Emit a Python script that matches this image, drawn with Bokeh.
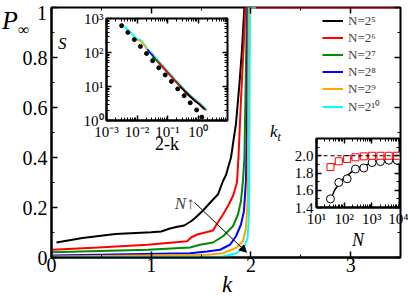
import numpy as np
from bokeh.plotting import figure
from bokeh.models import (Range1d, FixedTicker, LinearAxis, LogAxis, Legend, LegendItem,
                          Label, Arrow, NormalHead, Span, CustomJSTickFormatter, Div)
from bokeh.layouts import column
from bokeh.embed import file_html
from bokeh.resources import INLINE

FONT = "Liberation Serif"

# ---------------- main panel data: P_inf vs k ----------------
series_names = ["N=2⁵", "N=2⁶", "N=2⁷", "N=2⁸", "N=2⁹", "N=2¹⁰"]
series_colors = ["#000000", "#ff0000", "#008b00", "#0000ff", "#ffa500", "#00ffff"]

k_N5 = [0.05, 0.31, 0.64, 1.00, 1.10, 1.18, 1.25, 1.33, 1.40, 1.44, 1.52, 1.59, 1.67, 1.72, 1.75, 1.80, 1.85, 1.885, 1.91, 1.934, 2.05]
P_N5 = [0.060, 0.078, 0.094, 0.101, 0.104, 0.115, 0.122, 0.128, 0.145, 0.158, 0.188, 0.219, 0.253, 0.306, 0.330, 0.400, 0.535, 0.696, 0.830, 1.0, 1.0]
k_N6 = [0.01, 0.47, 0.965, 1.36, 1.40, 1.46, 1.56, 1.62, 1.655, 1.72, 1.77, 1.82, 1.86, 1.875, 1.90, 1.925, 1.945, 2.0, 3.5]
P_N6 = [0.031, 0.040, 0.051, 0.065, 0.080, 0.092, 0.102, 0.108, 0.132, 0.172, 0.206, 0.246, 0.300, 0.400, 0.630, 0.830, 1.0, 1.0, 1.0]
k_N7 = [0.01, 0.965, 1.39, 1.49, 1.62, 1.72, 1.82, 1.87, 1.90, 1.92, 1.935, 1.95, 1.96, 2.05]
P_N7 = [0.021, 0.031, 0.040, 0.051, 0.060, 0.085, 0.125, 0.172, 0.226, 0.306, 0.400, 0.760, 1.0, 1.0]
k_N8 = [0.01, 1.39, 1.56, 1.69, 1.79, 1.85, 1.90, 1.93, 1.95, 1.96, 1.967, 2.05]
P_N8 = [0.008, 0.017, 0.024, 0.031, 0.051, 0.085, 0.132, 0.185, 0.306, 0.500, 1.0, 1.0]
k_N9 = [0.01, 1.56, 1.72, 1.85, 1.92, 1.95, 1.967, 1.972, 1.977, 2.05]
P_N9 = [0.004, 0.011, 0.017, 0.038, 0.065, 0.118, 0.226, 0.500, 1.0, 1.0]
k_N10 = [0.01, 1.72, 1.85, 1.93, 1.967, 1.98, 1.985, 1.99, 2.05]
P_N10 = [0.0, 0.004, 0.017, 0.038, 0.078, 0.172, 0.500, 1.0, 1.0]

main_k = [k_N5, k_N6, k_N7, k_N8, k_N9, k_N10]
main_P = [P_N5, P_N6, P_N7, P_N8, P_N9, P_N10]

x_ticks = [0, 1, 2, 3]
y_ticks = [0, 0.2, 0.4, 0.6, 0.8, 1.0]

# arrow "N up"
arrow_start = (1.432, 0.221)
arrow_end = (1.955, 0.021)

dots_logx = [-2.505, -2.30, -2.09, -1.89, -1.69, -1.49, -1.29, -1.08, -0.875, -0.67, -0.46, -0.26, -0.05, 0.12]
dots_logS = [2.79, 2.59, 2.38, 2.18, 1.97, 1.76, 1.55, 1.34, 1.15, 0.93, 0.73, 0.52, 0.31, 0.10]

S_logx_N10 = [-2.41, -2.25, -2.12, -2.05, -1.97, -1.88, -1.80, -1.72, -1.64, -1.56, -1.48, -1.40, -1.32, -1.24, -1.16, -1.08, -1.00, -0.92, -0.84, -0.76, -0.68, -0.60, -0.52, -0.44, -0.36, -0.28, -0.20, -0.12, -0.04, 0.04, 0.12, 0.20, 0.28]
S_logS_N10 = [2.76, 2.62, 2.50, 2.42, 2.39, 2.36, 2.28, 2.18, 2.06, 2.02, 1.95, 1.84, 1.78, 1.68, 1.62, 1.53, 1.45, 1.36, 1.30, 1.20, 1.14, 1.05, 0.98, 0.90, 0.84, 0.76, 0.70, 0.63, 0.57, 0.52, 0.45, 0.38, 0.30]
S_logx_N9 = [-2.07, -1.97, -1.88, -1.80, -1.72, -1.64, -1.56, -1.48, -1.40, -1.24, -1.08, -0.92, -0.76, -0.60, -0.44, -0.28, -0.12, 0.04, 0.20, 0.26]
S_logS_N9 = [2.40, 2.36, 2.33, 2.25, 2.15, 2.04, 1.99, 1.92, 1.82, 1.66, 1.50, 1.34, 1.18, 1.03, 0.88, 0.74, 0.61, 0.50, 0.36, 0.31]
S_logx_N8 = [-1.66, -1.58, -1.48, -1.40, -1.24, -1.08, -0.92, -0.76, -0.60, -0.44, -0.28, -0.12, 0.04, 0.20, 0.25]
S_logS_N8 = [2.10, 1.99, 1.90, 1.81, 1.64, 1.49, 1.33, 1.17, 1.02, 0.87, 0.73, 0.60, 0.49, 0.35, 0.31]
S_logx_N7 = [-1.51, -1.40, -1.24, -1.08, -0.92, -0.76, -0.60, -0.44, -0.28, -0.12, 0.04, 0.20, 0.24]
S_logS_N7 = [1.86, 1.80, 1.63, 1.48, 1.32, 1.16, 1.01, 0.86, 0.72, 0.59, 0.48, 0.34, 0.31]
S_logx_N6 = [-1.30, -1.16, -1.00, -0.84, -0.68, -0.52, -0.36, -0.20, -0.04, 0.12, 0.22]
S_logS_N6 = [1.72, 1.58, 1.41, 1.26, 1.10, 0.95, 0.81, 0.67, 0.55, 0.42, 0.33]
S_logx_N5 = [-0.60, -0.44, -0.28, -0.12, 0.04, 0.20]
S_logS_N5 = [1.00, 0.85, 0.71, 0.58, 0.47, 0.33]

inset_S_x = [S_logx_N5, S_logx_N6, S_logx_N7, S_logx_N8, S_logx_N9, S_logx_N10]
inset_S_y = [S_logS_N5, S_logS_N6, S_logS_N7, S_logS_N8, S_logS_N9, S_logS_N10]

# ---------------- inset 2: k_t vs N ----------------
N_vals = [32, 64, 128, 256, 512, 1024, 2048, 4096, 8192]
kt_circles = [1.50, 1.69, 1.733, 1.846, 1.858, 1.921, 1.932, 1.948, 1.948]
kt_squares = [1.869, 1.936, 1.962, 1.982, 1.993, 2.0, 2.0, 2.0, 2.0]
fit_N = [32, 45, 64, 91, 128, 181, 256, 362, 512, 1024, 2048, 4096, 8192]
fit_kt = [1.49, 1.60, 1.67, 1.73, 1.77, 1.81, 1.84, 1.865, 1.885, 1.915, 1.935, 1.95, 1.96]

SUP_JS = """
const sup = {"-":"\\u207b","0":"\\u2070","1":"\\u00b9","2":"\\u00b2","3":"\\u00b3","4":"\\u2074",
             "5":"\\u2075","6":"\\u2076","7":"\\u2077","8":"\\u2078","9":"\\u2079"};
const e = Math.round(Math.log10(tick));
return "10" + String(e).split("").map(c => sup[c]).join("");
"""


def style_axis(ax, size, labels=True, major_in=6, minor_in=3, line=True):
    ax.major_tick_in = major_in
    ax.major_tick_out = 0
    ax.minor_tick_in = minor_in
    ax.minor_tick_out = 0
    ax.major_tick_line_color = "black"
    ax.minor_tick_line_color = "black"
    ax.major_tick_line_width = 1.5
    ax.minor_tick_line_width = 1
    ax.axis_line_color = "black" if line else None
    ax.axis_line_width = 2
    ax.major_label_text_font = FONT
    ax.major_label_text_color = "black"
    ax.major_label_text_font_size = size
    ax.major_label_standoff = 3
    ax.axis_label_text_font = FONT
    ax.axis_label_text_color = "black"
    if not labels:
        ax.formatter = CustomJSTickFormatter(code="return '';")
        ax.major_label_text_color = None
        ax.major_label_text_font_size = "1px"
        ax.major_label_standoff = 0
        ax.axis_label_standoff = 0


def text_div(html, left, top, size):
    inner = (f'<div style="font-family:\'{FONT}\';font-size:{size}px;line-height:1;'
             f'color:black;white-space:nowrap;margin:0;padding:0">{html}</div>')
    return Div(text=inner, width=50, height=30, margin=0,
               styles={"position": "absolute", "left": f"{left}px", "top": f"{top}px",
                       "font-family": FONT, "font-size": f"{size}px", "line-height": "1"})


# ================= main figure =================
p = figure(width=417, height=296, x_range=Range1d(0, 3.5), y_range=Range1d(0, 1),
           output_backend="svg", toolbar_location=None,
           min_border_left=51, min_border_right=2, min_border_top=7, min_border_bottom=39)
p.grid.visible = False
p.outline_line_color = "black"
p.outline_line_width = 2
p.outline_line_alpha = 1
p.background_fill_color = "white"
p.border_fill_color = "white"

xt = FixedTicker(ticks=x_ticks, minor_ticks=[0.5, 1.5, 2.5])
yt = FixedTicker(ticks=y_ticks, minor_ticks=[0.1, 0.3, 0.5, 0.7, 0.9])
p.xaxis.ticker = xt
p.yaxis.ticker = yt
# the label of the top tick (1) is placed a little lower, as in the reference, by a separate text below
p.yaxis.formatter = CustomJSTickFormatter(code="if (Math.abs(tick - 1) < 1e-9) return ''; return Math.abs(tick) < 1e-9 ? '0' : tick.toFixed(1);")
style_axis(p.xaxis[0], "20px")
style_axis(p.yaxis[0], "20px")
p.yaxis.major_label_standoff = 4
p.xaxis.major_label_standoff = 0
top_ax = LinearAxis(ticker=xt)
right_ax = LinearAxis(ticker=yt)
style_axis(top_ax, "1px", labels=False, line=False)
style_axis(right_ax, "1px", labels=False, line=False)
p.add_layout(top_ax, "above")
p.add_layout(right_ax, "right")

items = []
for name, col, kk, PP in zip(series_names, series_colors, main_k, main_P):
    r = p.line(kk, PP, line_color=col, line_width=2)
    items.append(LegendItem(label=name, renderers=[r]))

legend = Legend(items=items, location=(271, 142), padding=0, margin=0, spacing=0,
                glyph_width=21, glyph_height=17, label_height=17, label_standoff=5,
                label_text_font=FONT, label_text_font_size="13px",
                border_line_color=None, background_fill_alpha=0)
p.add_layout(legend)

p.add_layout(Arrow(end=NormalHead(size=7, fill_color="black", line_color="black"),
                   x_start=arrow_start[0], y_start=arrow_start[1],
                   x_end=arrow_end[0], y_end=arrow_end[1], line_width=1, line_color="black"))
p.add_layout(Label(x=1.436, y=0.218, text="N↑", text_align="right", text_baseline="alphabetic",
                   text_font=FONT, text_font_style="italic", text_font_size="17px"))

# ================= inset 1: S vs 2-k =================
ps = figure(width=181, height=150, x_axis_type="log", y_axis_type="log",
            x_range=Range1d(1e-3, 10 ** 0.96), y_range=Range1d(1, 1000),
            output_backend="svg", toolbar_location=None,
            min_border_left=45, min_border_right=8, min_border_top=8, min_border_bottom=40)
ps.grid.visible = False
ps.outline_line_color = "black"
ps.outline_line_width = 2
ps.outline_line_alpha = 1
ps.background_fill_color = "white"
ps.border_fill_alpha = 0
sx = FixedTicker(ticks=[1e-3, 1e-2, 1e-1, 1.0],
                 minor_ticks=[m * 10.0 ** e for e in range(-3, 1) for m in range(2, 10)])
sy = FixedTicker(ticks=[1.0, 10.0, 100.0, 1000.0],
                 minor_ticks=[m * 10.0 ** e for e in range(0, 3) for m in range(2, 10)])
ps.xaxis.ticker = sx
ps.yaxis.ticker = sy
ps.xaxis.formatter = CustomJSTickFormatter(code=SUP_JS)
ps.yaxis.formatter = CustomJSTickFormatter(code=SUP_JS)
style_axis(ps.xaxis[0], "15px", major_in=5, minor_in=3)
style_axis(ps.yaxis[0], "15px", major_in=5, minor_in=3)
ps.xaxis.axis_label = "2-k"
ps.xaxis.axis_label_text_font_style = "normal"
ps.xaxis.axis_label_text_font_size = "18px"
ps.xaxis.axis_label_standoff = -9
s_top = LogAxis(ticker=sx)
s_right = LogAxis(ticker=sy)
style_axis(s_top, "1px", labels=False, major_in=5, minor_in=3, line=False)
style_axis(s_right, "1px", labels=False, major_in=5, minor_in=3, line=False)
ps.add_layout(s_top, "above")
ps.add_layout(s_right, "right")

for i in [5, 4, 3, 2, 1, 0]:
    ps.line(10 ** np.array(inset_S_x[i]), 10 ** np.array(inset_S_y[i]),
            line_color=series_colors[i], line_width=2 if i == 5 else 1.5)
ps.scatter(10 ** np.array(dots_logx), 10 ** np.array(dots_logS), marker="circle",
           size=4, fill_color="black", line_color="black")

# ================= inset 2: k_t vs N =================
pk = figure(width=143, height=128, x_axis_type="log",
            x_range=Range1d(10, 1e4), y_range=Range1d(1.4, 2.2),
            output_backend="svg", toolbar_location=None,
            min_border_left=36, min_border_right=9, min_border_top=14, min_border_bottom=42)
pk.grid.visible = False
pk.outline_line_color = "black"
pk.outline_line_width = 2
pk.outline_line_alpha = 1
pk.background_fill_color = "white"
pk.border_fill_alpha = 0
kx = FixedTicker(ticks=[10.0, 100.0, 1000.0, 10000.0],
                 minor_ticks=[m * 10.0 ** e for e in range(1, 4) for m in range(2, 10)])
ky = FixedTicker(ticks=[1.4, 1.6, 1.8, 2.0], minor_ticks=[1.5, 1.7, 1.9, 2.1])
pk.xaxis.ticker = kx
pk.yaxis.ticker = ky
pk.xaxis.formatter = CustomJSTickFormatter(code=SUP_JS)
pk.yaxis.formatter = CustomJSTickFormatter(code="return tick.toFixed(1);")
style_axis(pk.xaxis[0], "15px", major_in=5, minor_in=3)
style_axis(pk.yaxis[0], "15px", major_in=5, minor_in=3)
pk.xaxis.axis_label = "N"
pk.xaxis.axis_label_text_font_style = "italic"
pk.xaxis.axis_label_text_font_size = "18px"
pk.xaxis.axis_label_standoff = 0
k_top = LogAxis(ticker=kx)
k_right = LinearAxis(ticker=ky)
style_axis(k_top, "1px", labels=False, major_in=5, minor_in=3, line=False)
style_axis(k_right, "1px", labels=False, major_in=5, minor_in=3, line=False)
pk.add_layout(k_top, "above")
pk.add_layout(k_right, "right")

pk.add_layout(Span(location=2.0, dimension="width", line_color="black", line_dash="4 3", line_width=1))
pk.line(fit_N, fit_kt, line_color="black", line_width=1.5)
pk.line(N_vals, kt_squares, line_color="red", line_width=1.5)
pk.scatter(N_vals, kt_circles, marker="circle", size=8, fill_color="white", line_color="black", line_width=1)
pk.scatter(N_vals, kt_squares, marker="square", size=7, fill_color="white", line_color="red", line_width=1)

ps.styles = {"position": "absolute", "left": "55px", "top": "10px"}
pk.styles = {"position": "absolute", "left": "265px", "top": "124px"}

# free-standing axis titles and the top tick label (outside the plot frames)
d_P = text_div('<i>P</i><span style="font-size:16px;vertical-align:-6px;font-style:normal">∞</span>', 2, 8, 26)
d_one = text_div('1', 37, 3, 20)
d_k = text_div('<i>k</i>', 222, 273, 23)
d_S = text_div('<i>S</i>', 58, 35, 17)
d_kt = text_div('<i>k</i><span style="font-size:12px;vertical-align:-4px;font-style:italic">t</span>', 270, 123, 17)

root = column(p, ps, pk, d_P, d_one, d_k, d_S, d_kt, spacing=0)
root.styles = {"position": "relative", "overflow": "hidden", "width": "409px", "height": "296px"}

open("out.html", "w", encoding="utf-8").write(file_html(root, INLINE))
